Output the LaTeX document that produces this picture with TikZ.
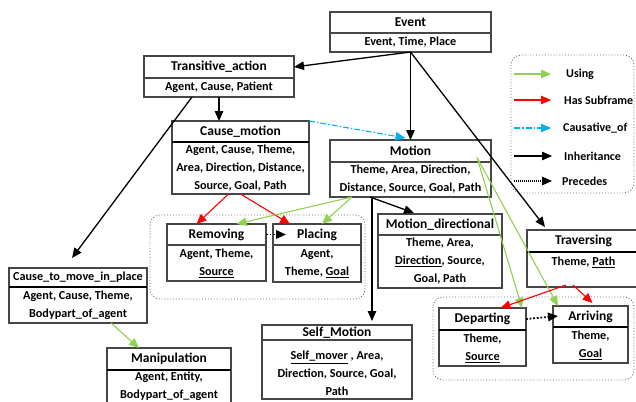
\documentclass[tikz,border=0pt]{standalone}
\usepackage{fontspec}
\setmainfont{Carlito}
\usetikzlibrary{arrows.meta,calc}
\definecolor{ugreen}{RGB}{146,208,80}
\definecolor{ucyan}{RGB}{0,176,240}
\definecolor{ured}{RGB}{255,0,0}
\definecolor{boxc}{RGB}{70,70,70}
\tikzset{
 frbox/.style={draw=boxc, line width=1.2pt, inner sep=0pt, outer sep=0pt, fill=white},
 ttl/.style={inner sep=0pt, outer sep=0pt, font=\fontsize{13.5}{15}\selectfont\bfseries},
 att/.style={inner sep=0pt, outer sep=0pt, align=center, font=\fontsize{12.2}{18}\selectfont\bfseries},
 lgtxt/.style={inner sep=0pt, anchor=west, font=\fontsize{12}{14}\selectfont\bfseries},
 thindiv/.style={draw=boxc, line width=1.2pt},
 thickdiv/.style={draw=black, line width=2.4pt},
 tipped/.style={-{Triangle[length=10pt,width=8.5pt]}},
 inh/.style={tipped, line width=1.3pt, black},
 usin/.style={tipped, line width=1.1pt, ugreen},
 subf/.style={tipped, line width=1.1pt, ured},
 caus/.style={tipped, line width=1.1pt, ucyan, dash pattern=on 6pt off 2pt on 1.5pt off 2pt},
 prec/.style={tipped, line width=1.8pt, black, dash pattern=on 1.8pt off 1.8pt},
 grp/.style={draw=black!60, line width=0.9pt, dotted, rounded corners=10pt},
}
\def\frmparse#1,#2,#3,#4,#5\relax{\def\frXa{#1}\def\frXb{#2}\def\frYa{#3}\def\frYd{#4}\def\frYb{#5}}
\newcommand\frm[6][]{%
 \frmparse#3\relax
 \pgfmathsetmacro\frCx{(\frXa+\frXb)/2}%
 \pgfmathsetmacro\frW{\frXb-\frXa}%
 \pgfmathsetmacro\frCy{(\frYa+\frYb)/2}%
 \pgfmathsetmacro\frH{\frYb-\frYa}%
 \pgfmathsetmacro\frTy{(\frYa+\frYd)/2}%
 \pgfmathsetmacro\frTh{\frYd-\frYa}%
 \pgfmathsetmacro\frAy{(\frYd+\frYb)/2}%
 \node[frbox, minimum width=\frW pt, minimum height=\frH pt] (#2) at (\frCx,\frCy) {};
 \node[ttl, minimum width=\frW pt, minimum height=\frTh pt] (#2-t) at (\frCx,\frTy) {#4};
 \node[att,#1] (#2-a) at (\frCx,\frAy) {#5};
 \draw[#6] (\frXa,\frYd) -- (\frXb,\frYd);
}
\begin{document}
\begin{tikzpicture}[x=1pt,y=-1pt]
\fill[white] (0,0) rectangle (636,401);
\useasboundingbox (0,0) rectangle (636,401);
% groups
\draw[grp] (150,215) rectangle (365,299);
\draw[grp] (433,297) rectangle (634,380);
\draw[grp] (511,55) rectangle (634,193);
% frames
\frm{ev}{330,491,12,33,52}{Event}{Event, Time, Place}{thindiv}
\frm{ta}{144,294,56,78,97}{Transitive\_action}{Agent, Cause, Patient}{thindiv}
\frm{cm}{172,309,121,142,194}{Cause\_motion}{Agent, Cause, Theme,\\Area, Direction, Distance,\\Source, Goal, Path}{thickdiv}
\frm{mo}{330,491,140,162,197}{Motion}{Theme, Area, Direction,\\Distance, Source, Goal, Path}{thindiv}
\frm{rm}{167,266,224,245,281}{Removing}{Agent, Theme,\\\underline{Source}}{thindiv}
\frm{pl}{273,361,224,245,282}{Placing}{Agent,\\Theme, \underline{Goal}}{thindiv}
\frm{ctm}{9,147,268,287,323}{{\fontsize{12.2}{13}\selectfont Cause\_to\_move\_in\_place}}{Agent, Cause, Theme,\\Bodypart\_of\_agent}{thickdiv}
\frm[yshift=4pt]{ma}{107,231,348,370,410}{Manipulation}{Agent, Entity,\\Bodypart\_of\_agent}{thickdiv}
\frm{md}{378,502,214,235,288}{Motion\_directional}{Theme, Area,\\\underline{Direction}, Source,\\Goal, Path}{thindiv}
\frm[yshift=-4pt]{sm}{262,412,325,340,399}{Self\_Motion}{\underline{Self\_mover} , Area,\\Direction, Source, Goal,\\Path}{thindiv}
\frm[yshift=7.5pt]{tr}{527,640,230,252,287}{Traversing}{Theme, \underline{Path}}{thickdiv}
\frm{dp}{439,526,308,330,366}{Departing}{Theme,\\\underline{Source}}{thickdiv}
\frm{ar}{553,628,306,327,363}{Arriving}{Theme,\\\underline{Goal}}{thickdiv}
% connectors
\draw[inh] (ev.south) -- (ta-t.east);
\draw[inh] (ev.south) -- (mo.north);
\draw[inh] (ev.south) -- ([xshift=18pt,yshift=3pt]tr.north west);
\draw[inh] (ta.south) -- (ta.south |- cm.north);
\draw[inh] ([xshift=-27pt]ta.south) -- ([xshift=-6pt,yshift=10pt]ctm.north);
\draw[caus] (cm.north east) -- ([xshift=-5pt,yshift=2pt]mo.north);
\draw[subf] ([xshift=-12pt]cm.south) -- ([xshift=-20pt]rm.north);
\draw[subf] (cm.south) -- ([xshift=-27pt]pl.north);
\draw[usin] ([xshift=22pt]mo.south west) -- ([xshift=20pt]rm.north);
\draw[usin] ([xshift=22pt]mo.south west) -- ([xshift=5pt]pl.north);
\draw[inh] ([xshift=40pt]mo.south west) -- ([xshift=-26pt,yshift=1pt]md.north);
\coordinate (smx) at ([xshift=42pt]mo.south west);
\draw[inh, shorten >=4pt] (smx) -- (smx |- sm.north);
\draw[usin] ([xshift=-14pt,yshift=11pt]mo.east) -- ([xshift=-4pt]dp.north east);
\draw[usin] ([xshift=-14pt,yshift=11pt]mo.east) -- ([xshift=5pt]ar.north west);
\draw[subf] ([xshift=-17.5pt,yshift=2pt]tr.south) -- ([xshift=18pt]dp.north);
\draw[subf] ([xshift=-10.5pt,yshift=2pt]tr.south) -- ([xshift=2pt,yshift=3pt]ar.north);
\draw[usin] ([xshift=33pt]ctm.south) -- ([xshift=-30pt]ma.north);
\draw[prec, shorten >=-13pt] (rm-t.east) -- (pl-t.west);
\draw[prec, shorten >=-5pt] (dp-t.east) -- (ar-t.west);
% legend
\coordinate (lgA1) at (514,74);  \coordinate (lgB1) at (551,74);
\coordinate (lgA2) at (514,100); \coordinate (lgB2) at (551,100);
\coordinate (lgA3) at (514,128); \coordinate (lgB3) at (551,128);
\coordinate (lgA4) at (514,156); \coordinate (lgB4) at (552,156);
\coordinate (lgA5) at (514,181); \coordinate (lgB5) at (552,181);
\draw[usin] (lgA1) -- (lgB1);
\draw[subf] (lgA2) -- (lgB2);
\draw[caus] (lgA3) -- (lgB3);
\draw[inh] (lgA4) -- (lgB4);
\draw[prec, line width=1.3pt, dash pattern=on 1pt off 1pt] (lgA5) -- (lgB5);
\node[lgtxt] (lg1) at (566,74) {Using};
\node[lgtxt] (lg2) at (564,100) {Has Subframe};
\node[lgtxt] (lg3) at (563,128) {Causative\_of};
\node[lgtxt] (lg4) at (564,156) {Inheritance};
\node[lgtxt] (lg5) at (562,181) {Precedes};
\end{tikzpicture}
\end{document}
